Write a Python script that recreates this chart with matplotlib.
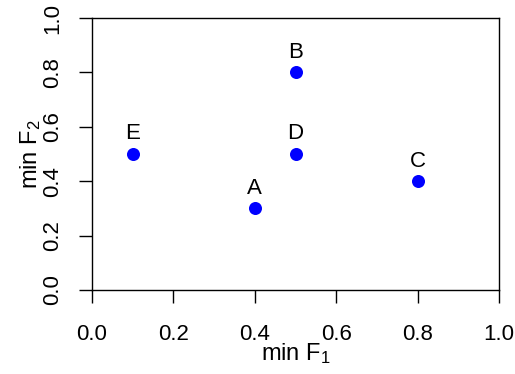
import matplotlib
matplotlib.use("Agg")
import matplotlib.pyplot as plt

plt.rcParams['font.family'] = ['Liberation Sans', 'DejaVu Sans']
plt.rcParams['mathtext.fontset'] = 'custom'
plt.rcParams['mathtext.rm'] = 'Liberation Sans'
plt.rcParams['mathtext.it'] = 'Liberation Sans'
plt.rcParams['mathtext.sf'] = 'Liberation Sans'

labels = ["A", "B", "C", "D", "E"]
f1 = [0.4, 0.5, 0.8, 0.5, 0.1]
f2 = [0.3, 0.8, 0.4, 0.5, 0.5]
ticks = [0.0, 0.2, 0.4, 0.6, 0.8, 1.0]
tick_labels = ["0.0", "0.2", "0.4", "0.6", "0.8", "1.0"]

fig = plt.figure(figsize=(5.15, 3.74), dpi=100)
ax = fig.add_axes([92/515, 1 - 290/374, (499 - 92)/515, (290 - 18)/374])
ax.scatter(f1, f2, s=88, color='#0000FF', zorder=3, linewidths=0)
for lab, x, y in zip(labels, f1, f2):
    ax.annotate(lab, (x, y), xytext=(0, 10.5), textcoords='offset points',
                ha='center', va='baseline', fontsize=16)

ax.set_xlim(0, 1)
ax.set_ylim(0, 1)
ax.set_xticks(ticks)
ax.set_xticklabels(tick_labels)
ax.set_yticks(ticks)
ax.set_yticklabels(tick_labels, rotation=90, va='center')
ax.tick_params(axis='both', direction='out', length=9.5, width=1, labelsize=16, color='black')
ax.tick_params(axis='x', pad=15)
ax.tick_params(axis='y', pad=11)
for s in ax.spines.values():
    s.set_linewidth(1)
ax.set_xlabel("min F$_1$", fontsize=17, labelpad=-3)
ax.set_ylabel("min F$_2$", fontsize=17, labelpad=0)

fig.savefig("out.png", dpi=100)
